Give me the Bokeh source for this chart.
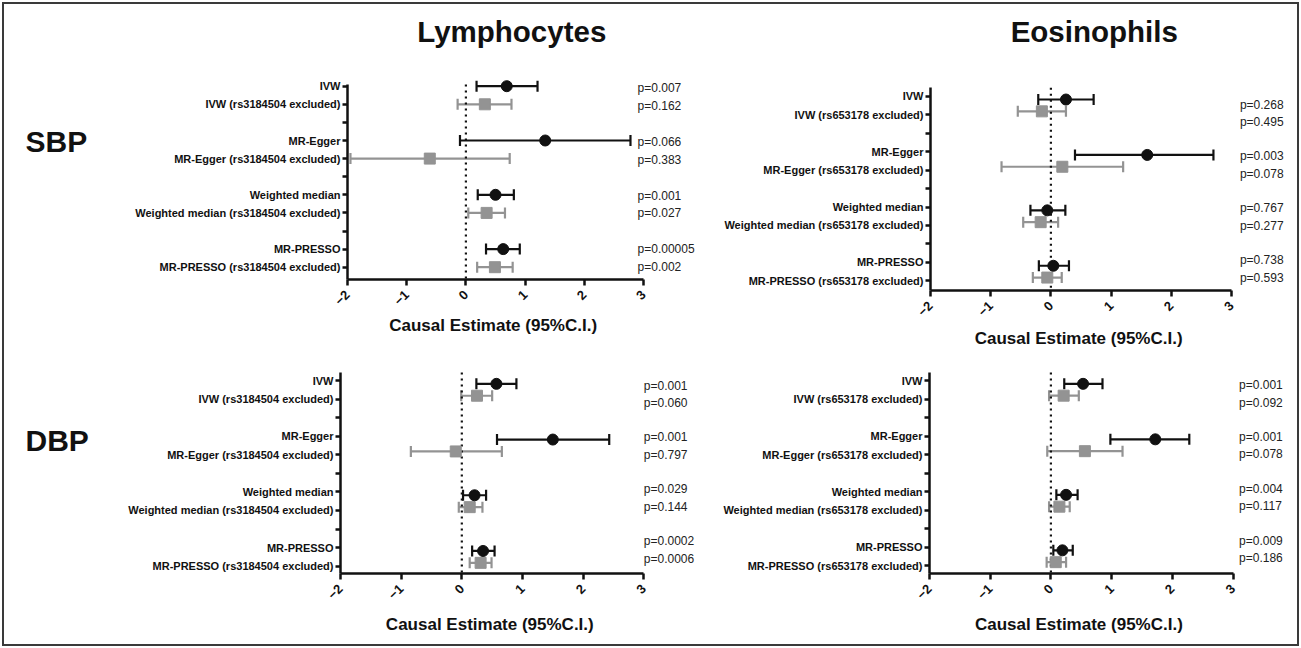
import math
from bokeh.plotting import figure
from bokeh.models import Range1d, FixedTicker, ColumnDataSource, Whisker, TeeHead
from bokeh.layouts import row, column
from bokeh.embed import file_html
from bokeh.resources import INLINE
from bokeh.core.properties import value

FONT = "Liberation Sans"
BLACK = "#111111"
GREY = "#939393"

methods = ["IVW", "MR-Egger", "Weighted median", "MR-PRESSO"]
x_ticks = [-2, -1, 0, 1, 2, 3]
axis_title = "Causal Estimate  (95%C.I.)"

# ---- Lymphocytes / SBP ----
lym_sbp_est = [0.69, 1.34, 0.50, 0.63]
lym_sbp_lo = [0.18, -0.10, 0.20, 0.34]
lym_sbp_hi = [1.21, 2.78, 0.81, 0.91]
lym_sbp_ex_est = [0.32, -0.61, 0.35, 0.49]
lym_sbp_ex_lo = [-0.14, -1.95, 0.04, 0.19]
lym_sbp_ex_hi = [0.77, 0.74, 0.66, 0.79]
lym_sbp_p = ["p=0.007", "p=0.066", "p=0.001", "p=0.00005"]
lym_sbp_ex_p = ["p=0.162", "p=0.383", "p=0.027", "p=0.002"]

# ---- Eosinophils / SBP ----
eos_sbp_est = [0.25, 1.60, -0.06, 0.04]
eos_sbp_lo = [-0.21, 0.40, -0.34, -0.20]
eos_sbp_hi = [0.71, 2.70, 0.24, 0.30]
eos_sbp_ex_est = [-0.15, 0.19, -0.17, -0.06]
eos_sbp_ex_lo = [-0.55, -0.82, -0.46, -0.30]
eos_sbp_ex_hi = [0.25, 1.20, 0.12, 0.18]
eos_sbp_p = ["p=0.268", "p=0.003", "p=0.767", "p=0.738"]
eos_sbp_ex_p = ["p=0.495", "p=0.078", "p=0.277", "p=0.593"]

# ---- Lymphocytes / DBP ----
lym_dbp_est = [0.57, 1.50, 0.21, 0.35]
lym_dbp_lo = [0.24, 0.58, 0.02, 0.17]
lym_dbp_hi = [0.90, 2.43, 0.40, 0.54]
lym_dbp_ex_est = [0.25, -0.10, 0.13, 0.31]
lym_dbp_ex_lo = [-0.01, -0.84, -0.05, 0.13]
lym_dbp_ex_hi = [0.50, 0.66, 0.34, 0.49]
lym_dbp_p = ["p=0.001", "p=0.001", "p=0.029", "p=0.0002"]
lym_dbp_ex_p = ["p=0.060", "p=0.797", "p=0.144", "p=0.0006"]

# ---- Eosinophils / DBP ----
eos_dbp_est = [0.53, 1.72, 0.25, 0.19]
eos_dbp_lo = [0.22, 0.98, 0.09, 0.04]
eos_dbp_hi = [0.85, 2.28, 0.44, 0.36]
eos_dbp_ex_est = [0.21, 0.56, 0.14, 0.08]
eos_dbp_ex_lo = [-0.03, -0.06, -0.03, -0.07]
eos_dbp_ex_hi = [0.46, 1.18, 0.31, 0.25]
eos_dbp_p = ["p=0.001", "p=0.001", "p=0.004", "p=0.009"]
eos_dbp_ex_p = ["p=0.092", "p=0.078", "p=0.117", "p=0.186"]

ROWS_B = [0, 3, 6, 9]
ROWS_G = [1, 4, 7, 10]


def blank(p):
    p.outline_line_color = None
    p.grid.visible = False
    p.background_fill_color = None
    p.border_fill_color = None


def panel(geo, snp, est, lo, hi, ex_est, ex_lo, ex_hi, pv, ex_pv, title=None):
    W, H, LH = geo["w"], geo["h"], geo["lab_h"]
    left, bottom = geo["left"], geo["bottom"]
    xu, row0, rs = geo["xunit"], geo["row0"], geo["rowsp"]
    x_end = -2 + (W - left) / xu
    y_top = (0 - row0) / rs
    y_bot = (bottom - row0) / rs
    axis_top = (geo["axis_top"] - row0) / rs
    xr = Range1d(-2, x_end)

    p = figure(width=W, height=H, output_backend="svg", toolbar_location=None,
               x_range=xr, y_range=Range1d(y_bot, y_top),
               min_border_left=left, min_border_right=0, min_border_top=0,
               min_border_bottom=H - bottom)
    blank(p)

    xa = p.xaxis[0]
    xa.bounds = (-2, 3)
    xa.ticker = FixedTicker(ticks=x_ticks)
    xa.minor_tick_line_color = None
    xa.major_tick_in = 0
    xa.major_tick_out = 6
    xa.axis_line_width = 2.5
    xa.major_tick_line_width = 2.5
    xa.axis_line_color = BLACK
    xa.major_tick_line_color = BLACK
    xa.major_label_orientation = math.pi / 4
    xa.major_label_text_font = FONT
    xa.major_label_text_font_style = "bold"
    xa.major_label_text_font_size = "13px"
    xa.major_label_text_color = BLACK
    xa.major_label_standoff = 7

    ya = p.yaxis[0]
    ya.bounds = (axis_top, y_bot)
    ya.ticker = FixedTicker(ticks=list(range(11)))
    labels = ["IVW", f"IVW ({snp} excluded)", "",
              "MR-Egger", f"MR-Egger ({snp} excluded)", "",
              "Weighted median", f"Weighted median ({snp} excluded)", "",
              "MR-PRESSO", f"MR-PRESSO ({snp} excluded)"]
    ya.major_label_overrides = {i: lab for i, lab in enumerate(labels)}
    ya.minor_tick_line_color = None
    ya.major_tick_in = 0
    ya.major_tick_out = 5
    ya.axis_line_width = 2.5
    ya.major_tick_line_width = 2.5
    ya.axis_line_color = BLACK
    ya.major_tick_line_color = BLACK
    ya.major_label_text_font = FONT
    ya.major_label_text_font_style = "bold"
    ya.major_label_text_font_size = "11px"
    ya.major_label_text_color = BLACK
    ya.major_label_standoff = 2

    # zero reference line
    p.segment(x0=[0], y0=[axis_top], x1=[0], y1=[y_bot], line_color=BLACK,
              line_width=2.2, line_dash="2 4")

    off = geo["pt_off"]
    src_b = ColumnDataSource(dict(y=[r + off for r in ROWS_B], est=est, lo=lo, hi=hi))
    src_g = ColumnDataSource(dict(y=[r - off for r in ROWS_G], est=ex_est, lo=ex_lo, hi=ex_hi))
    for src, col, mk in ((src_g, GREY, "square"), (src_b, BLACK, "circle")):
        w = Whisker(source=src, base="y", lower="lo", upper="hi", dimension="width",
                    line_color=col, line_width=2.2,
                    upper_head=TeeHead(size=11, line_color=col, line_width=2.2),
                    lower_head=TeeHead(size=11, line_color=col, line_width=2.2))
        p.add_layout(w)
        p.scatter(x="est", y="y", source=src, marker=mk, size=11,
                  fill_color=col, line_color=col)

    # p-values
    pa, pk = geo["p_a"], geo["p_k"]
    ptxt, py = [], []
    for i in range(4):
        ptxt += [pv[i], ex_pv[i]]
        py += [pa + pk * ROWS_B[i], pa + pk * ROWS_G[i]]
    p.text(x=[geo["p_x"]] * len(ptxt), y=py, text=ptxt, text_font=value(FONT),
           text_font_size="12px", text_color="#222222", text_baseline="middle",
           text_align="left")

    if title:
        ty = (geo["title_px"] - row0) / rs
        p.text(x=[geo["title_x"]], y=[ty], text=[title], text_font=value(FONT),
               text_font_style="bold", text_font_size="29.5px", text_color=BLACK,
               text_baseline="middle", text_align="center")

    # axis title strip, sharing the panel's x scale
    q = figure(width=W, height=LH, output_backend="svg", toolbar_location=None,
               x_range=xr, y_range=Range1d(LH, 0),
               x_axis_location=None, y_axis_location=None,
               min_border_left=left, min_border_right=0, min_border_top=0,
               min_border_bottom=0)
    blank(q)
    q.text(x=[0.5], y=[geo["lab_y"]], text=[axis_title], text_font=value(FONT),
           text_font_style="bold", text_font_size="17px", text_color=BLACK,
           text_baseline="middle", text_align="center")
    return column(p, q, spacing=0)


def side_label(w, h, txt, x, y):
    f = figure(width=w, height=h, output_backend="svg", toolbar_location=None,
               x_range=Range1d(0, w), y_range=Range1d(h, 0),
               x_axis_location=None, y_axis_location=None, min_border=0)
    blank(f)
    f.text(x=[x], y=[y], text=[txt], text_font=value(FONT), text_font_style="bold",
           text_font_size="30px", text_color=BLACK, text_baseline="middle",
           text_align="left")
    return f


# columns: 100 | 605 | 596 = 1301 ; rows: 352 + 296 = 648
geo_tl = dict(w=605, h=314, lab_h=38, lab_y=11, left=247, bottom=279, xunit=59.2,
              row0=85.7, rowsp=18.1, axis_top=84, pt_off=0.0, p_a=0.1, p_k=0.99,
              p_x=2.90, title_px=31, title_x=0.775)
geo_tr = dict(w=596, h=326, lab_h=26, lab_y=11.5, left=225, bottom=290, xunit=60.2,
              row0=95.7, rowsp=18.47, axis_top=87.3, pt_off=0.18, p_a=0.45, p_k=0.937,
              p_x=3.14, title_px=31, title_x=0.72)
geo_bl = dict(w=605, h=260, lab_h=36, lab_y=11.5, left=240, bottom=221, xunit=60.66,
              row0=28, rowsp=18.57, axis_top=20, pt_off=0.18, p_a=0.27, p_k=0.932,
              p_x=3.0)
geo_br = dict(w=596, h=260, lab_h=36, lab_y=11.5, left=224, bottom=221, xunit=60.7,
              row0=28, rowsp=18.5, axis_top=20, pt_off=0.18, p_a=0.27, p_k=0.932,
              p_x=3.10)

tl = panel(geo_tl, "rs3184504", lym_sbp_est, lym_sbp_lo, lym_sbp_hi,
           lym_sbp_ex_est, lym_sbp_ex_lo, lym_sbp_ex_hi, lym_sbp_p, lym_sbp_ex_p,
           title="Lymphocytes")
tr = panel(geo_tr, "rs653178", eos_sbp_est, eos_sbp_lo, eos_sbp_hi,
           eos_sbp_ex_est, eos_sbp_ex_lo, eos_sbp_ex_hi, eos_sbp_p, eos_sbp_ex_p,
           title="Eosinophils")
bl = panel(geo_bl, "rs3184504", lym_dbp_est, lym_dbp_lo, lym_dbp_hi,
           lym_dbp_ex_est, lym_dbp_ex_lo, lym_dbp_ex_hi, lym_dbp_p, lym_dbp_ex_p)
br = panel(geo_br, "rs653178", eos_dbp_est, eos_dbp_lo, eos_dbp_hi,
           eos_dbp_ex_est, eos_dbp_ex_lo, eos_dbp_ex_hi, eos_dbp_p, eos_dbp_ex_p)

sbp = side_label(100, 352, "SBP", 25, 141)
dbp = side_label(100, 296, "DBP", 25, 88)

layout = row(column(sbp, dbp, spacing=0),
             column(tl, bl, spacing=0),
             column(tr, br, spacing=0), spacing=0,
             styles={"outline": "2px solid #3a3a3a", "outline-offset": "-4px",
                     "background-color": "white"})

open("out.html", "w").write(file_html(layout, INLINE))
